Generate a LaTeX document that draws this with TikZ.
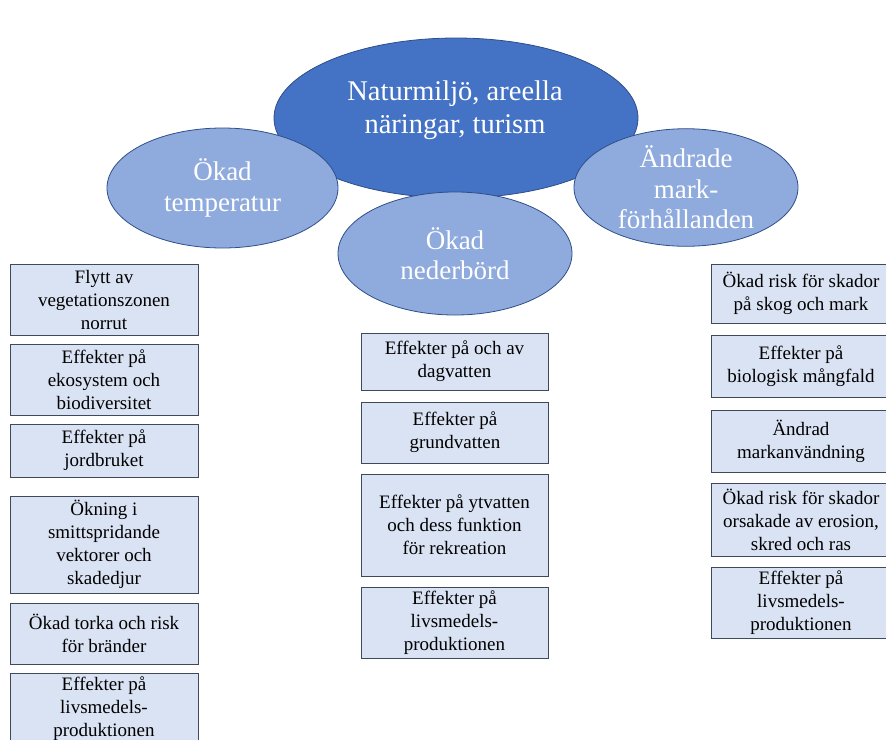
\documentclass[tikz,border=0pt]{standalone}
\usepackage{fontspec}
\setmainfont{Liberation Serif}
\usetikzlibrary{shapes.geometric}
\definecolor{coreblue}{HTML}{4472C4}
\definecolor{edgeblue}{HTML}{2F4F8A}
\definecolor{midblue}{HTML}{8FAADC}
\definecolor{boxfill}{HTML}{DAE3F3}
\definecolor{boxedge}{HTML}{3E4A5C}
\begin{document}
\begin{tikzpicture}[x=1pt,y=-1pt,
  core/.style={ellipse, draw=edgeblue, line width=0.8pt, fill=coreblue, inner sep=0pt},
  theme/.style={ellipse, draw=edgeblue, line width=0.8pt, fill=midblue, inner sep=0pt,
    text=white, align=center, font=\fontsize{27}{30.5}\selectfont},
  coretext/.style={text=white, align=center, inner sep=0pt, font=\fontsize{28.5}{33}\selectfont},
  effect/.style={draw=boxedge, line width=0.9pt, fill=boxfill, align=center, inner sep=0pt,
    font=\fontsize{19}{23}\selectfont},
  leftcol/.style={effect, minimum width=188pt},
  midcol/.style={effect, minimum width=187pt},
  rightcol/.style={effect, minimum width=180pt}]
\useasboundingbox (0,0) rectangle (886,739);
\clip (0,0) rectangle (886,739);

% central theme and its three drivers
\node[core, minimum width=364pt, minimum height=160pt] (core) at (456,118) {};
\node[coretext] (coretitle) at (455,110) {Naturmiljö, areella\\näringar, turism};
\node[theme, minimum width=231pt, minimum height=120pt] (temp) at (222.5,188) {Ökad\\temperatur};
\node[theme, minimum width=224pt, minimum height=116pt] (land) at (686,187.5) {Ändrade\\mark-\\förhållanden};
\node[theme, minimum width=234pt, minimum height=123pt] (rain) at (455,253.5) {Ökad\\nederbörd};

% effects of higher temperature
\node[leftcol, minimum height=71pt] (t1) at (104,299.5) {Flytt av\\vegetationszonen\\norrut};
\node[leftcol, minimum height=71pt] (t2) at (104,379.5) {Effekter på\\ekosystem och\\biodiversitet};
\node[leftcol, minimum height=53pt] (t3) at (104,450.5) {Effekter på\\jordbruket};
\node[leftcol, minimum height=97pt] (t4) at (104,544.5) {Ökning i\\smittspridande\\vektorer och\\skadedjur};
\node[leftcol, minimum height=61pt] (t5) at (104,633.5) {Ökad torka och risk\\för bränder};
\node[leftcol, minimum height=72pt] (t6) at (104,709) {Effekter på\\livsmedels-\\produktionen};

% effects of more precipitation
\node[midcol, minimum height=57pt] (n1) at (454.5,361.5) {Effekter på och av\\dagvatten};
\node[midcol, minimum height=61pt] (n2) at (455,432.5) {Effekter på\\grundvatten};
\node[midcol, minimum height=102pt] (n3) at (454.5,525) {Effekter på ytvatten\\och dess funktion\\för rekreation};
\node[midcol, minimum height=71pt] (n4) at (454.5,622.5) {Effekter på\\livsmedels-\\produktionen};

% effects of changed ground conditions
\node[rightcol, minimum height=59pt] (m1) at (801,293.5) {Ökad risk för skador\\på skog och mark};
\node[rightcol, minimum height=62pt] (m2) at (801,366) {Effekter på\\biologisk mångfald};
\node[rightcol, minimum height=62pt] (m3) at (801,441) {Ändrad\\markanvändning};
\node[rightcol, minimum height=73pt] (m4) at (801,519.5) {Ökad risk för skador\\orsakade av erosion,\\skred och ras};
\node[rightcol, minimum height=71pt] (m5) at (801,602.5) {Effekter på\\livsmedels-\\produktionen};
\end{tikzpicture}
\end{document}
